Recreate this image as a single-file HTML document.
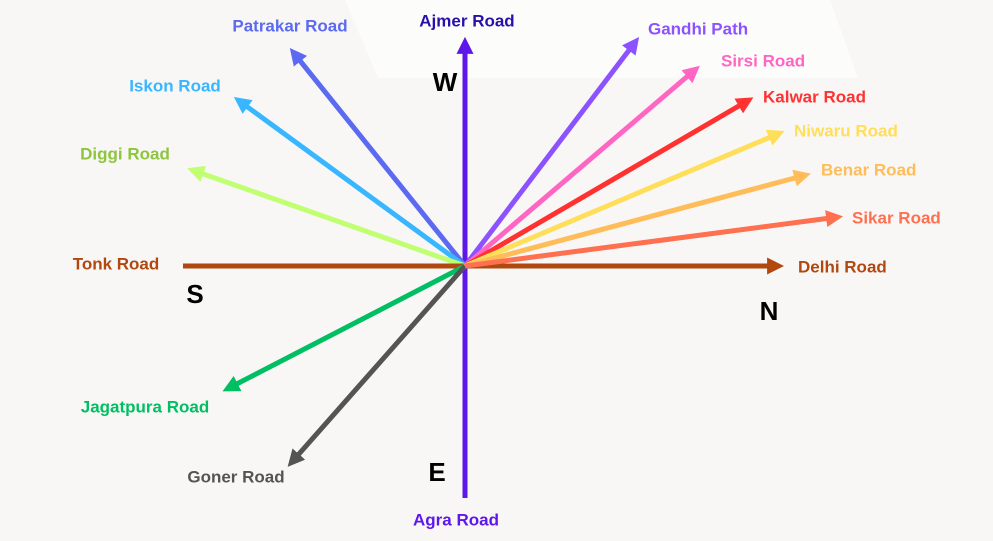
<!DOCTYPE html>
<html><head><meta charset="utf-8"><style>
html,body{margin:0;padding:0;background:#f8f7f5;}
svg{display:block;}
text{font-family:"Liberation Sans",sans-serif;font-weight:bold;font-size:17px;dominant-baseline:middle;}
text.big{font-size:26px;}
</style></head><body>
<svg width="993" height="541" viewBox="0 0 993 541" xmlns="http://www.w3.org/2000/svg">
<defs>
<marker id="m1" viewBox="0 0 10 10" refX="7" refY="5" markerWidth="3.4" markerHeight="3.4" orient="auto"><path d="M0,0L10,5L0,10z" fill="#5e17eb"/></marker>
<marker id="m2" viewBox="0 0 10 10" refX="7" refY="5" markerWidth="3.4" markerHeight="3.4" orient="auto"><path d="M0,0L10,5L0,10z" fill="#5b6af0"/></marker>
<marker id="m3" viewBox="0 0 10 10" refX="7" refY="5" markerWidth="3.4" markerHeight="3.4" orient="auto"><path d="M0,0L10,5L0,10z" fill="#38b6ff"/></marker>
<marker id="m4" viewBox="0 0 10 10" refX="7" refY="5" markerWidth="3.4" markerHeight="3.4" orient="auto"><path d="M0,0L10,5L0,10z" fill="#c1ff72"/></marker>
<marker id="m5" viewBox="0 0 10 10" refX="7" refY="5" markerWidth="3.4" markerHeight="3.4" orient="auto"><path d="M0,0L10,5L0,10z" fill="#b1480f"/></marker>
<marker id="m6" viewBox="0 0 10 10" refX="7" refY="5" markerWidth="3.4" markerHeight="3.4" orient="auto"><path d="M0,0L10,5L0,10z" fill="#00bf63"/></marker>
<marker id="m7" viewBox="0 0 10 10" refX="7" refY="5" markerWidth="3.4" markerHeight="3.4" orient="auto"><path d="M0,0L10,5L0,10z" fill="#545454"/></marker>
<marker id="m8" viewBox="0 0 10 10" refX="7" refY="5" markerWidth="3.4" markerHeight="3.4" orient="auto"><path d="M0,0L10,5L0,10z" fill="#8c52ff"/></marker>
<marker id="m9" viewBox="0 0 10 10" refX="7" refY="5" markerWidth="3.4" markerHeight="3.4" orient="auto"><path d="M0,0L10,5L0,10z" fill="#ff66c4"/></marker>
<marker id="m10" viewBox="0 0 10 10" refX="7" refY="5" markerWidth="3.4" markerHeight="3.4" orient="auto"><path d="M0,0L10,5L0,10z" fill="#ff3131"/></marker>
<marker id="m11" viewBox="0 0 10 10" refX="7" refY="5" markerWidth="3.4" markerHeight="3.4" orient="auto"><path d="M0,0L10,5L0,10z" fill="#ffde59"/></marker>
<marker id="m12" viewBox="0 0 10 10" refX="7" refY="5" markerWidth="3.4" markerHeight="3.4" orient="auto"><path d="M0,0L10,5L0,10z" fill="#ffbd59"/></marker>
<marker id="m13" viewBox="0 0 10 10" refX="7" refY="5" markerWidth="3.4" markerHeight="3.4" orient="auto"><path d="M0,0L10,5L0,10z" fill="#ff7050"/></marker>
</defs>
<polygon points="345,0 830,0 858,78 378,78" fill="#ffffff" opacity="0.6"/>
<g stroke-width="5" fill="none">
<line x1="465" y1="498" x2="465" y2="42" stroke="#5e17eb" marker-end="url(#m1)"/>
<line x1="465" y1="266" x2="293" y2="52" stroke="#5b6af0" marker-end="url(#m2)"/>
<line x1="465" y1="266" x2="238" y2="100" stroke="#38b6ff" marker-end="url(#m3)"/>
<line x1="465" y1="266" x2="192" y2="170" stroke="#c1ff72" marker-end="url(#m4)"/>
<line x1="183" y1="266" x2="779" y2="266" stroke="#b1480f" marker-end="url(#m5)"/>
<line x1="465" y1="266" x2="227" y2="389" stroke="#00bf63" marker-end="url(#m6)"/>
<line x1="465" y1="266" x2="291" y2="463" stroke="#545454" marker-end="url(#m7)"/>
<line x1="465" y1="266" x2="636" y2="41" stroke="#8c52ff" marker-end="url(#m8)"/>
<line x1="465" y1="266" x2="696" y2="69" stroke="#ff66c4" marker-end="url(#m9)"/>
<line x1="465" y1="266" x2="749" y2="100" stroke="#ff3131" marker-end="url(#m10)"/>
<line x1="465" y1="266" x2="780" y2="133" stroke="#ffde59" marker-end="url(#m11)"/>
<line x1="465" y1="266" x2="806" y2="175" stroke="#ffbd59" marker-end="url(#m12)"/>
<line x1="465" y1="266" x2="838" y2="217" stroke="#ff7050" marker-end="url(#m13)"/>
</g>
<text x="467" y="22" text-anchor="middle" fill="#2a0fa8">Ajmer Road</text>
<text x="290" y="27" text-anchor="middle" fill="#5b6af0">Patrakar Road</text>
<text x="175" y="87" text-anchor="middle" fill="#38b6ff">Iskon Road</text>
<text x="125" y="155" text-anchor="middle" fill="#8fc43f">Diggi Road</text>
<text x="116" y="265" text-anchor="middle" fill="#b1480f">Tonk Road</text>
<text x="145" y="408" text-anchor="middle" fill="#00bf63">Jagatpura Road</text>
<text x="236" y="478" text-anchor="middle" fill="#545454">Goner Road</text>
<text x="456" y="521" text-anchor="middle" fill="#5e17eb">Agra Road</text>
<text x="648" y="30" fill="#8c52ff">Gandhi Path</text>
<text x="721" y="62" fill="#ff66c4">Sirsi Road</text>
<text x="763" y="98" fill="#ff3131">Kalwar Road</text>
<text x="794" y="132" fill="#ffde59">Niwaru Road</text>
<text x="821" y="171" fill="#ffbd59">Benar Road</text>
<text x="852" y="219" fill="#ff7050">Sikar Road</text>
<text x="798" y="268" fill="#b1480f">Delhi Road</text>
<text class="big" x="445" y="84" text-anchor="middle" fill="#000">W</text>
<text class="big" x="195" y="296" text-anchor="middle" fill="#000">S</text>
<text class="big" x="769" y="313" text-anchor="middle" fill="#000">N</text>
<text class="big" x="437" y="474" text-anchor="middle" fill="#000">E</text>
</svg>
</body></html>
